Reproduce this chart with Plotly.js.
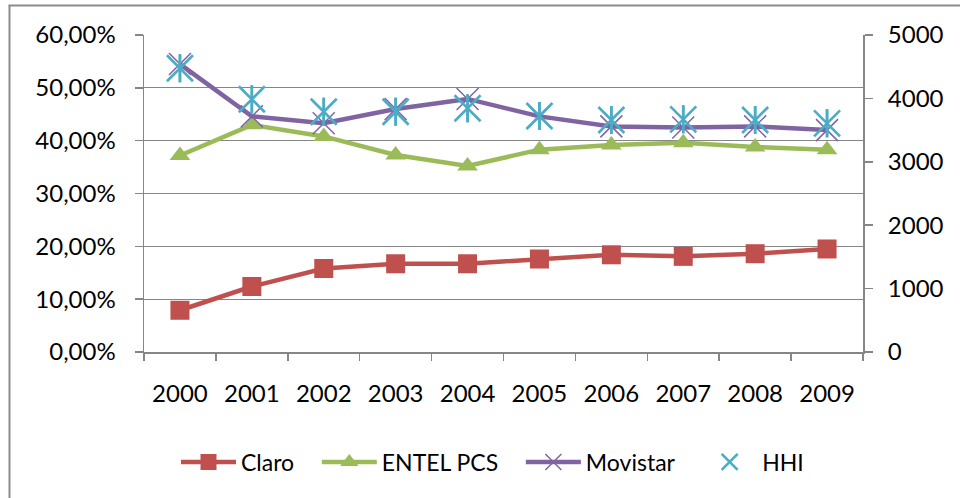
<!DOCTYPE html>
<html>
<head>
<meta charset="utf-8">
<script src="https://cdn.plot.ly/plotly-3.0.1.min.js"></script>
<style>
  html, body { margin: 0; padding: 0; background: #ffffff; }
  #chart { width: 960px; height: 498px; }
</style>
</head>
<body>
<div id="chart"></div>
<script>
// Market share of mobile operators (left axis, %) and HHI (right axis)
const years = ['2000', '2001', '2002', '2003', '2004', '2005', '2006', '2007', '2008', '2009'];
const claro = [7.9, 12.4, 15.8, 16.7, 16.7, 17.6, 18.4, 18.1, 18.6, 19.5];
const entel = [37.2, 43.0, 40.8, 37.3, 35.2, 38.3, 39.2, 39.6, 38.8, 38.3];
const movistar = [54.5, 44.6, 43.3, 46.0, 47.9, 44.6, 42.7, 42.5, 42.7, 42.0];
const hhi = [4475, 3986, 3790, 3790, 3844, 3722, 3659, 3670, 3659, 3607];
const seriesNames = ['Claro', 'ENTEL PCS', 'Movistar', 'HHI'];

const W = 960, H = 498;
const M = { l: 144, r: 97, t: 35, b: 146 };
const pw = W - M.l - M.r, ph = H - M.t - M.b;
const px = x => (x - M.l) / pw;
const py = y => (H - M.b - y) / ph;

const FONT = 'Lato, "Open Sans", sans-serif';
const TICK_SIZE = 24;
const GRID = '#868686';
const HHI_MAX = 5000;
const NBSP = '\u00a0';

// legend labels padded so the entries sit further apart
const pad = s => s + NBSP + NBSP + NBSP;

// vertical arm of the HHI asterisk (the X part is the marker itself)
const armPx = 14;
const armValue = armPx * HHI_MAX / ph;

const hhiAxisCommon = {
  range: [0, HHI_MAX], dtick: 1000, tick0: 0,
  overlaying: 'y', side: 'right',
  showgrid: false, zeroline: false
};

const traces = [
  {
    x: years, y: claro, name: pad(seriesNames[0]), type: 'scatter', mode: 'lines+markers',
    line: { color: '#C0504D', width: 4.5 },
    marker: { symbol: 'square', size: 19, color: '#C0504D' }
  },
  {
    x: years, y: entel, name: pad(seriesNames[1]), type: 'scatter', mode: 'lines+markers',
    line: { color: '#9BBB59', width: 4.5 },
    marker: { symbol: 'triangle-up', size: 18, color: '#9BBB59' }
  },
  {
    x: years, y: movistar, name: pad(seriesNames[2]), type: 'scatter', mode: 'lines+markers',
    line: { color: '#8064A2', width: 4.5 },
    marker: { symbol: 'x-thin-open', size: 22, color: '#8064A2', line: { color: '#8064A2', width: 1.5 } }
  },
  {
    x: years, y: hhi, name: seriesNames[3], type: 'scatter', mode: 'markers', yaxis: 'y2',
    marker: { symbol: 'x-thin-open', size: 26, color: '#4BACC6', line: { color: '#4BACC6', width: 2.6 } },
    error_y: { type: 'constant', value: armValue, width: 0, thickness: 2.6, color: '#4BACC6', visible: true }
  },
  {
    x: years, y: hhi, name: seriesNames[3], type: 'scatter', mode: 'markers', yaxis: 'y3',
    showlegend: false, hoverinfo: 'skip',
    marker: { symbol: 'line-ns-open', size: 20, color: '#4BACC6', line: { color: '#4BACC6', width: 2.6 } }
  }
];

const layout = {
  width: W, height: H,
  margin: M,
  paper_bgcolor: '#ffffff', plot_bgcolor: '#ffffff',
  separators: ',.',
  font: { family: FONT, size: TICK_SIZE, color: '#000000' },
  showlegend: true,
  legend: {
    orientation: 'h', x: px(176), xanchor: 'left', y: py(462), yanchor: 'middle',
    font: { family: FONT, size: 23, color: '#000000' },
    itemwidth: 55, bgcolor: 'rgba(0,0,0,0)'
  },
  xaxis: {
    type: 'category', range: [-0.5, 9.5], tickson: 'boundaries',
    showline: true, linecolor: GRID, linewidth: 1.5,
    ticks: 'outside', ticklen: 7, tickcolor: GRID, tickwidth: 1.5,
    showgrid: false, zeroline: false, ticklabelstandoff: 20,
    tickfont: { family: FONT, size: TICK_SIZE, color: '#000000' }
  },
  yaxis: {
    range: [0, 60], dtick: 10, tick0: 0,
    tickformat: '.2f', ticksuffix: '%',
    showline: true, linecolor: GRID, linewidth: 1.5,
    ticks: 'outside', ticklen: 8, tickcolor: GRID, tickwidth: 1.5,
    showgrid: true, gridcolor: GRID, gridwidth: 1.3, zeroline: false,
    ticklabelstandoff: 14,
    tickfont: { family: FONT, size: TICK_SIZE, color: '#000000' }
  },
  // right axis: line and short tick marks
  yaxis2: Object.assign({}, hhiAxisCommon, {
    showline: true, linecolor: GRID, linewidth: 1.5,
    ticks: 'outside', ticklen: 8, tickcolor: GRID, tickwidth: 1.5,
    showticklabels: false
  }),
  // right axis: tick labels, set further out from the axis line
  yaxis3: Object.assign({}, hhiAxisCommon, {
    showline: false,
    ticks: 'outside', ticklen: 19, tickcolor: 'rgba(0,0,0,0)', tickwidth: 1,
    showticklabels: true,
    tickfont: { family: FONT, size: TICK_SIZE, color: '#000000' }
  }),
  shapes: [
    // chart frame (left and top edges)
    { type: 'line', xref: 'paper', yref: 'paper', x0: px(9.5), x1: px(9.5), y0: py(5.5), y1: py(H + 2),
      line: { color: '#8c8c8c', width: 2 } },
    { type: 'line', xref: 'paper', yref: 'paper', x0: px(8.5), x1: px(W + 2), y0: py(5.5), y1: py(5.5),
      line: { color: '#8c8c8c', width: 2 } }
  ]
};

Plotly.newPlot('chart', traces, layout, { displayModeBar: false, staticPlot: true });
</script>
</body>
</html>
